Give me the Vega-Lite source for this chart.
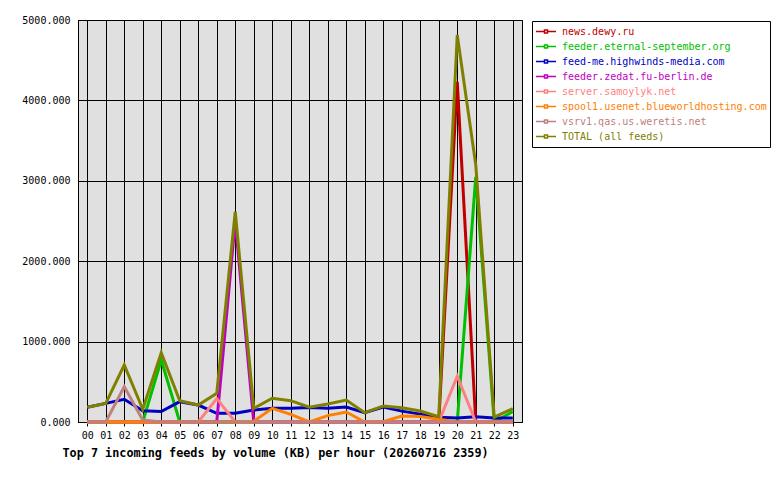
{
  "$schema": "https://vega.github.io/schema/vega-lite/v6.json",
  "width": 444,
  "height": 402,
  "autosize": "none",
  "padding": {"left": 78, "top": 20, "right": 258, "bottom": 58},
  "background": "white",
  "config": {
    "font": "DejaVu Sans Mono",
    "view": {"fill": "#e0e0e0", "stroke": "black", "strokeWidth": 1}
  },
  "data": {
    "values": [
      {"hour": 0, "feed": "news.dewy.ru", "kb": 0},
      {"hour": 1, "feed": "news.dewy.ru", "kb": 0},
      {"hour": 2, "feed": "news.dewy.ru", "kb": 0},
      {"hour": 3, "feed": "news.dewy.ru", "kb": 0},
      {"hour": 4, "feed": "news.dewy.ru", "kb": 0},
      {"hour": 5, "feed": "news.dewy.ru", "kb": 0},
      {"hour": 6, "feed": "news.dewy.ru", "kb": 0},
      {"hour": 7, "feed": "news.dewy.ru", "kb": 0},
      {"hour": 8, "feed": "news.dewy.ru", "kb": 0},
      {"hour": 9, "feed": "news.dewy.ru", "kb": 0},
      {"hour": 10, "feed": "news.dewy.ru", "kb": 0},
      {"hour": 11, "feed": "news.dewy.ru", "kb": 0},
      {"hour": 12, "feed": "news.dewy.ru", "kb": 0},
      {"hour": 13, "feed": "news.dewy.ru", "kb": 0},
      {"hour": 14, "feed": "news.dewy.ru", "kb": 0},
      {"hour": 15, "feed": "news.dewy.ru", "kb": 0},
      {"hour": 16, "feed": "news.dewy.ru", "kb": 0},
      {"hour": 17, "feed": "news.dewy.ru", "kb": 0},
      {"hour": 18, "feed": "news.dewy.ru", "kb": 0},
      {"hour": 19, "feed": "news.dewy.ru", "kb": 0},
      {"hour": 20, "feed": "news.dewy.ru", "kb": 4230},
      {"hour": 21, "feed": "news.dewy.ru", "kb": 0},
      {"hour": 22, "feed": "news.dewy.ru", "kb": 0},
      {"hour": 23, "feed": "news.dewy.ru", "kb": 0},
      {"hour": 0, "feed": "feeder.eternal-september.org", "kb": 0},
      {"hour": 1, "feed": "feeder.eternal-september.org", "kb": 0},
      {"hour": 2, "feed": "feeder.eternal-september.org", "kb": 0},
      {"hour": 3, "feed": "feeder.eternal-september.org", "kb": 0},
      {"hour": 4, "feed": "feeder.eternal-september.org", "kb": 770},
      {"hour": 5, "feed": "feeder.eternal-september.org", "kb": 0},
      {"hour": 6, "feed": "feeder.eternal-september.org", "kb": 0},
      {"hour": 7, "feed": "feeder.eternal-september.org", "kb": 0},
      {"hour": 8, "feed": "feeder.eternal-september.org", "kb": 0},
      {"hour": 9, "feed": "feeder.eternal-september.org", "kb": 0},
      {"hour": 10, "feed": "feeder.eternal-september.org", "kb": 0},
      {"hour": 11, "feed": "feeder.eternal-september.org", "kb": 0},
      {"hour": 12, "feed": "feeder.eternal-september.org", "kb": 0},
      {"hour": 13, "feed": "feeder.eternal-september.org", "kb": 0},
      {"hour": 14, "feed": "feeder.eternal-september.org", "kb": 0},
      {"hour": 15, "feed": "feeder.eternal-september.org", "kb": 0},
      {"hour": 16, "feed": "feeder.eternal-september.org", "kb": 0},
      {"hour": 17, "feed": "feeder.eternal-september.org", "kb": 0},
      {"hour": 18, "feed": "feeder.eternal-september.org", "kb": 0},
      {"hour": 19, "feed": "feeder.eternal-september.org", "kb": 0},
      {"hour": 20, "feed": "feeder.eternal-september.org", "kb": 0},
      {"hour": 21, "feed": "feeder.eternal-september.org", "kb": 3050},
      {"hour": 22, "feed": "feeder.eternal-september.org", "kb": 0},
      {"hour": 23, "feed": "feeder.eternal-september.org", "kb": 130},
      {"hour": 0, "feed": "feed-me.highwinds-media.com", "kb": 183},
      {"hour": 1, "feed": "feed-me.highwinds-media.com", "kb": 232},
      {"hour": 2, "feed": "feed-me.highwinds-media.com", "kb": 282},
      {"hour": 3, "feed": "feed-me.highwinds-media.com", "kb": 141},
      {"hour": 4, "feed": "feed-me.highwinds-media.com", "kb": 130},
      {"hour": 5, "feed": "feed-me.highwinds-media.com", "kb": 253},
      {"hour": 6, "feed": "feed-me.highwinds-media.com", "kb": 211},
      {"hour": 7, "feed": "feed-me.highwinds-media.com", "kb": 108},
      {"hour": 8, "feed": "feed-me.highwinds-media.com", "kb": 108},
      {"hour": 9, "feed": "feed-me.highwinds-media.com", "kb": 149},
      {"hour": 10, "feed": "feed-me.highwinds-media.com", "kb": 170},
      {"hour": 11, "feed": "feed-me.highwinds-media.com", "kb": 172},
      {"hour": 12, "feed": "feed-me.highwinds-media.com", "kb": 180},
      {"hour": 13, "feed": "feed-me.highwinds-media.com", "kb": 172},
      {"hour": 14, "feed": "feed-me.highwinds-media.com", "kb": 185},
      {"hour": 15, "feed": "feed-me.highwinds-media.com", "kb": 116},
      {"hour": 16, "feed": "feed-me.highwinds-media.com", "kb": 185},
      {"hour": 17, "feed": "feed-me.highwinds-media.com", "kb": 135},
      {"hour": 18, "feed": "feed-me.highwinds-media.com", "kb": 98},
      {"hour": 19, "feed": "feed-me.highwinds-media.com", "kb": 60},
      {"hour": 20, "feed": "feed-me.highwinds-media.com", "kb": 50},
      {"hour": 21, "feed": "feed-me.highwinds-media.com", "kb": 64},
      {"hour": 22, "feed": "feed-me.highwinds-media.com", "kb": 50},
      {"hour": 23, "feed": "feed-me.highwinds-media.com", "kb": 50},
      {"hour": 0, "feed": "feeder.zedat.fu-berlin.de", "kb": 0},
      {"hour": 1, "feed": "feeder.zedat.fu-berlin.de", "kb": 0},
      {"hour": 2, "feed": "feeder.zedat.fu-berlin.de", "kb": 0},
      {"hour": 3, "feed": "feeder.zedat.fu-berlin.de", "kb": 0},
      {"hour": 4, "feed": "feeder.zedat.fu-berlin.de", "kb": 0},
      {"hour": 5, "feed": "feeder.zedat.fu-berlin.de", "kb": 0},
      {"hour": 6, "feed": "feeder.zedat.fu-berlin.de", "kb": 0},
      {"hour": 7, "feed": "feeder.zedat.fu-berlin.de", "kb": 0},
      {"hour": 8, "feed": "feeder.zedat.fu-berlin.de", "kb": 2500},
      {"hour": 9, "feed": "feeder.zedat.fu-berlin.de", "kb": 0},
      {"hour": 10, "feed": "feeder.zedat.fu-berlin.de", "kb": 0},
      {"hour": 11, "feed": "feeder.zedat.fu-berlin.de", "kb": 0},
      {"hour": 12, "feed": "feeder.zedat.fu-berlin.de", "kb": 0},
      {"hour": 13, "feed": "feeder.zedat.fu-berlin.de", "kb": 0},
      {"hour": 14, "feed": "feeder.zedat.fu-berlin.de", "kb": 0},
      {"hour": 15, "feed": "feeder.zedat.fu-berlin.de", "kb": 0},
      {"hour": 16, "feed": "feeder.zedat.fu-berlin.de", "kb": 0},
      {"hour": 17, "feed": "feeder.zedat.fu-berlin.de", "kb": 0},
      {"hour": 18, "feed": "feeder.zedat.fu-berlin.de", "kb": 0},
      {"hour": 19, "feed": "feeder.zedat.fu-berlin.de", "kb": 0},
      {"hour": 20, "feed": "feeder.zedat.fu-berlin.de", "kb": 0},
      {"hour": 21, "feed": "feeder.zedat.fu-berlin.de", "kb": 0},
      {"hour": 22, "feed": "feeder.zedat.fu-berlin.de", "kb": 0},
      {"hour": 23, "feed": "feeder.zedat.fu-berlin.de", "kb": 0},
      {"hour": 0, "feed": "server.samoylyk.net", "kb": 0},
      {"hour": 1, "feed": "server.samoylyk.net", "kb": 0},
      {"hour": 2, "feed": "server.samoylyk.net", "kb": 0},
      {"hour": 3, "feed": "server.samoylyk.net", "kb": 0},
      {"hour": 4, "feed": "server.samoylyk.net", "kb": 0},
      {"hour": 5, "feed": "server.samoylyk.net", "kb": 0},
      {"hour": 6, "feed": "server.samoylyk.net", "kb": 0},
      {"hour": 7, "feed": "server.samoylyk.net", "kb": 290},
      {"hour": 8, "feed": "server.samoylyk.net", "kb": 0},
      {"hour": 9, "feed": "server.samoylyk.net", "kb": 0},
      {"hour": 10, "feed": "server.samoylyk.net", "kb": 0},
      {"hour": 11, "feed": "server.samoylyk.net", "kb": 0},
      {"hour": 12, "feed": "server.samoylyk.net", "kb": 0},
      {"hour": 13, "feed": "server.samoylyk.net", "kb": 0},
      {"hour": 14, "feed": "server.samoylyk.net", "kb": 0},
      {"hour": 15, "feed": "server.samoylyk.net", "kb": 0},
      {"hour": 16, "feed": "server.samoylyk.net", "kb": 0},
      {"hour": 17, "feed": "server.samoylyk.net", "kb": 0},
      {"hour": 18, "feed": "server.samoylyk.net", "kb": 0},
      {"hour": 19, "feed": "server.samoylyk.net", "kb": 0},
      {"hour": 20, "feed": "server.samoylyk.net", "kb": 570},
      {"hour": 21, "feed": "server.samoylyk.net", "kb": 0},
      {"hour": 22, "feed": "server.samoylyk.net", "kb": 0},
      {"hour": 23, "feed": "server.samoylyk.net", "kb": 0},
      {"hour": 0, "feed": "spool1.usenet.blueworldhosting.com", "kb": 0},
      {"hour": 1, "feed": "spool1.usenet.blueworldhosting.com", "kb": 0},
      {"hour": 2, "feed": "spool1.usenet.blueworldhosting.com", "kb": 0},
      {"hour": 3, "feed": "spool1.usenet.blueworldhosting.com", "kb": 0},
      {"hour": 4, "feed": "spool1.usenet.blueworldhosting.com", "kb": 0},
      {"hour": 5, "feed": "spool1.usenet.blueworldhosting.com", "kb": 0},
      {"hour": 6, "feed": "spool1.usenet.blueworldhosting.com", "kb": 0},
      {"hour": 7, "feed": "spool1.usenet.blueworldhosting.com", "kb": 0},
      {"hour": 8, "feed": "spool1.usenet.blueworldhosting.com", "kb": 0},
      {"hour": 9, "feed": "spool1.usenet.blueworldhosting.com", "kb": 10},
      {"hour": 10, "feed": "spool1.usenet.blueworldhosting.com", "kb": 170},
      {"hour": 11, "feed": "spool1.usenet.blueworldhosting.com", "kb": 95},
      {"hour": 12, "feed": "spool1.usenet.blueworldhosting.com", "kb": 0},
      {"hour": 13, "feed": "spool1.usenet.blueworldhosting.com", "kb": 79},
      {"hour": 14, "feed": "spool1.usenet.blueworldhosting.com", "kb": 124},
      {"hour": 15, "feed": "spool1.usenet.blueworldhosting.com", "kb": 0},
      {"hour": 16, "feed": "spool1.usenet.blueworldhosting.com", "kb": 5},
      {"hour": 17, "feed": "spool1.usenet.blueworldhosting.com", "kb": 75},
      {"hour": 18, "feed": "spool1.usenet.blueworldhosting.com", "kb": 68},
      {"hour": 19, "feed": "spool1.usenet.blueworldhosting.com", "kb": 35},
      {"hour": 20, "feed": "spool1.usenet.blueworldhosting.com", "kb": 0},
      {"hour": 21, "feed": "spool1.usenet.blueworldhosting.com", "kb": 0},
      {"hour": 22, "feed": "spool1.usenet.blueworldhosting.com", "kb": 0},
      {"hour": 23, "feed": "spool1.usenet.blueworldhosting.com", "kb": 0},
      {"hour": 0, "feed": "vsrv1.qas.us.weretis.net", "kb": 0},
      {"hour": 1, "feed": "vsrv1.qas.us.weretis.net", "kb": 0},
      {"hour": 2, "feed": "vsrv1.qas.us.weretis.net", "kb": 440},
      {"hour": 3, "feed": "vsrv1.qas.us.weretis.net", "kb": 25},
      {"hour": 4, "feed": "vsrv1.qas.us.weretis.net", "kb": 0},
      {"hour": 5, "feed": "vsrv1.qas.us.weretis.net", "kb": 0},
      {"hour": 6, "feed": "vsrv1.qas.us.weretis.net", "kb": 0},
      {"hour": 7, "feed": "vsrv1.qas.us.weretis.net", "kb": 0},
      {"hour": 8, "feed": "vsrv1.qas.us.weretis.net", "kb": 0},
      {"hour": 9, "feed": "vsrv1.qas.us.weretis.net", "kb": 0},
      {"hour": 10, "feed": "vsrv1.qas.us.weretis.net", "kb": 0},
      {"hour": 11, "feed": "vsrv1.qas.us.weretis.net", "kb": 0},
      {"hour": 12, "feed": "vsrv1.qas.us.weretis.net", "kb": 0},
      {"hour": 13, "feed": "vsrv1.qas.us.weretis.net", "kb": 0},
      {"hour": 14, "feed": "vsrv1.qas.us.weretis.net", "kb": 0},
      {"hour": 15, "feed": "vsrv1.qas.us.weretis.net", "kb": 0},
      {"hour": 16, "feed": "vsrv1.qas.us.weretis.net", "kb": 0},
      {"hour": 17, "feed": "vsrv1.qas.us.weretis.net", "kb": 0},
      {"hour": 18, "feed": "vsrv1.qas.us.weretis.net", "kb": 0},
      {"hour": 19, "feed": "vsrv1.qas.us.weretis.net", "kb": 0},
      {"hour": 20, "feed": "vsrv1.qas.us.weretis.net", "kb": 0},
      {"hour": 21, "feed": "vsrv1.qas.us.weretis.net", "kb": 0},
      {"hour": 22, "feed": "vsrv1.qas.us.weretis.net", "kb": 0},
      {"hour": 23, "feed": "vsrv1.qas.us.weretis.net", "kb": 0},
      {"hour": 0, "feed": "TOTAL (all feeds)", "kb": 183},
      {"hour": 1, "feed": "TOTAL (all feeds)", "kb": 232},
      {"hour": 2, "feed": "TOTAL (all feeds)", "kb": 709},
      {"hour": 3, "feed": "TOTAL (all feeds)", "kb": 158},
      {"hour": 4, "feed": "TOTAL (all feeds)", "kb": 862},
      {"hour": 5, "feed": "TOTAL (all feeds)", "kb": 265},
      {"hour": 6, "feed": "TOTAL (all feeds)", "kb": 211},
      {"hour": 7, "feed": "TOTAL (all feeds)", "kb": 357},
      {"hour": 8, "feed": "TOTAL (all feeds)", "kb": 2616},
      {"hour": 9, "feed": "TOTAL (all feeds)", "kb": 170},
      {"hour": 10, "feed": "TOTAL (all feeds)", "kb": 295},
      {"hour": 11, "feed": "TOTAL (all feeds)", "kb": 265},
      {"hour": 12, "feed": "TOTAL (all feeds)", "kb": 183},
      {"hour": 13, "feed": "TOTAL (all feeds)", "kb": 224},
      {"hour": 14, "feed": "TOTAL (all feeds)", "kb": 272},
      {"hour": 15, "feed": "TOTAL (all feeds)", "kb": 116},
      {"hour": 16, "feed": "TOTAL (all feeds)", "kb": 199},
      {"hour": 17, "feed": "TOTAL (all feeds)", "kb": 178},
      {"hour": 18, "feed": "TOTAL (all feeds)", "kb": 137},
      {"hour": 19, "feed": "TOTAL (all feeds)", "kb": 66},
      {"hour": 20, "feed": "TOTAL (all feeds)", "kb": 4813},
      {"hour": 21, "feed": "TOTAL (all feeds)", "kb": 3200},
      {"hour": 22, "feed": "TOTAL (all feeds)", "kb": 60},
      {"hour": 23, "feed": "TOTAL (all feeds)", "kb": 166}
    ]
  },
  "mark": {"type": "line", "strokeWidth": 3, "interpolate": "linear"},
  "encoding": {
    "x": {
      "field": "hour",
      "type": "quantitative",
      "scale": {"domain": [-0.5, 23.5], "nice": false, "zero": false},
      "axis": {
        "values": [0, 1, 2, 3, 4, 5, 6, 7, 8, 9, 10, 11, 12, 13, 14, 15, 16, 17, 18, 19, 20, 21, 22, 23],
        "labelExpr": "datum.value < 10 ? '0' + datum.value : '' + datum.value",
        "labelFont": "DejaVu Sans Mono",
        "labelFontSize": 10,
        "labelColor": "black",
        "labelPadding": 4,
        "labelFlush": false,
        "labelOverlap": false,
        "tickSize": 4,
        "tickColor": "black",
        "domainColor": "black",
        "grid": true,
        "gridColor": "black",
        "gridOpacity": 1,
        "title": "Top 7 incoming feeds by volume (KB) per hour (20260716 2359)",
        "titleFont": "DejaVu Sans Mono",
        "titleFontSize": 11.8,
        "titleFontWeight": "bold",
        "titleColor": "black",
        "titleAlign": "left",
        "titleAnchor": null,
        "titleX": -16,
        "titleY": 30,
        "titleBaseline": "middle"
      }
    },
    "y": {
      "field": "kb",
      "type": "quantitative",
      "scale": {"domain": [0, 5000], "nice": false},
      "axis": {
        "values": [0, 1000, 2000, 3000, 4000, 5000],
        "format": ".3f",
        "labelFont": "DejaVu Sans Mono",
        "labelFontSize": 10,
        "labelColor": "black",
        "labelPadding": 8,
        "tickSize": 0,
        "domainColor": "black",
        "grid": true,
        "gridColor": "black",
        "gridOpacity": 1,
        "title": null
      }
    },
    "color": {
      "field": "feed",
      "type": "nominal",
      "scale": {
        "domain": [
          "news.dewy.ru",
          "feeder.eternal-september.org",
          "feed-me.highwinds-media.com",
          "feeder.zedat.fu-berlin.de",
          "server.samoylyk.net",
          "spool1.usenet.blueworldhosting.com",
          "vsrv1.qas.us.weretis.net",
          "TOTAL (all feeds)"
        ],
        "range": ["#c00000", "#00c000", "#0000c0", "#c000c0", "#ff8080", "#ff8000", "#c08080", "#808000"]
      },
      "legend": {
        "title": null,
        "orient": "none",
        "legendX": 454,
        "legendY": 1,
        "padding": 3,
        "strokeColor": "black",
        "fillColor": "white",
        "symbolType": "M-1,0H-0.15M0.15,0H1M-0.15,-0.15H0.15V0.15H-0.15Z",
        "symbolSize": 400,
        "symbolStrokeWidth": 1.5,
        "symbolFillColor": "transparent",
        "clipHeight": 15,
        "rowPadding": 0,
        "labelOffset": 5,
        "labelFont": "DejaVu Sans Mono",
        "labelFontSize": 10,
        "labelLimit": 400,
        "encode": {
          "labels": {"update": {"fill": {"scale": "color", "field": "value"}}}
        }
      }
    }
  }
}
